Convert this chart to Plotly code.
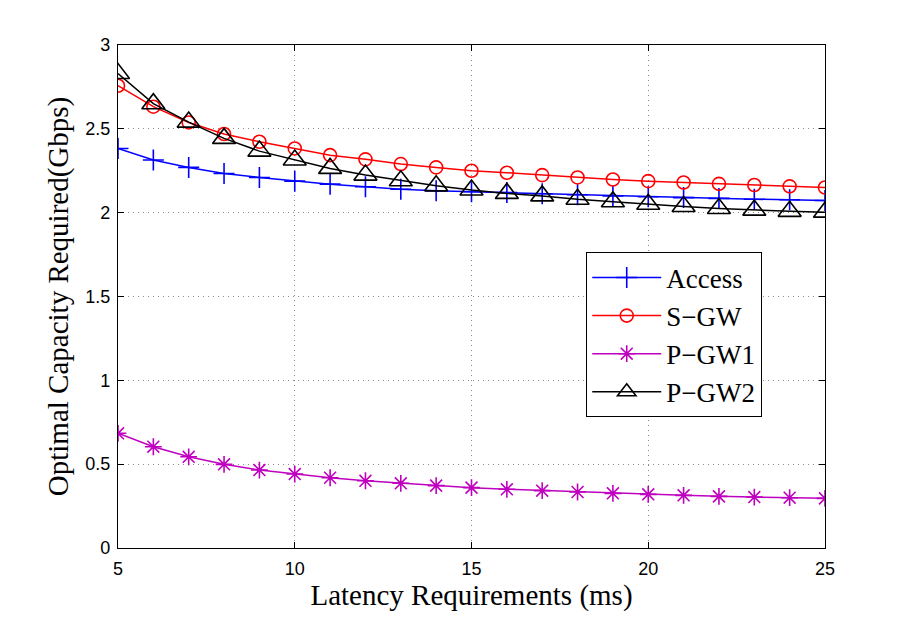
import plotly.graph_objects as go

latency = list(range(5, 26))
access = [2.383, 2.314, 2.27, 2.234, 2.21, 2.188, 2.17, 2.155, 2.14, 2.131, 2.125,
          2.12, 2.113, 2.107, 2.10, 2.095, 2.09, 2.085, 2.08, 2.077, 2.073]
sgw = [2.757, 2.632, 2.538, 2.469, 2.423, 2.383, 2.343, 2.318, 2.29, 2.27, 2.25,
       2.238, 2.224, 2.21, 2.198, 2.188, 2.18, 2.172, 2.165, 2.157, 2.15]
pgw1 = [0.684, 0.604, 0.544, 0.499, 0.465, 0.441, 0.419, 0.401, 0.386, 0.372, 0.36,
        0.35, 0.342, 0.334, 0.326, 0.32, 0.314, 0.308, 0.304, 0.30, 0.296]
pgw2 = [2.83, 2.65, 2.54, 2.443, 2.367, 2.314, 2.264, 2.224, 2.19, 2.16, 2.135,
        2.115, 2.10, 2.08, 2.065, 2.05, 2.037, 2.025, 2.015, 2.008, 2.003]

series = [
    ("Access", access, "blue", "cross-thin-open", 15),
    ("S\u2212GW", sgw, "red", "circle-open", 13),
    ("P\u2212GW1", pgw1, "#bf00bf", "asterisk-open", 14),
    ("P\u2212GW2", pgw2, "black", "triangle-up-open", 20),
]

fig = go.Figure()
for name, vals, color, sym, size in series:
    fig.add_trace(go.Scatter(
        x=latency, y=vals, name=name, mode="lines+markers",
        line=dict(color=color, width=1.5),
        marker=dict(symbol=sym, size=size, color=color, line=dict(color=color, width=1.6)),
    ))

axis_common = dict(
    showline=True, linecolor="black", linewidth=1.2, mirror="ticks",
    ticks="inside", ticklen=6, tickcolor="black",
    showgrid=True, gridcolor="#8a8a8a", griddash="1px,4px", gridwidth=1,
    zeroline=False,
    tickfont=dict(family="Liberation Sans, Arial", size=18, color="black"),
    title_font=dict(family="Liberation Serif, Times New Roman", size=29, color="black"),
)

fig.update_layout(
    width=909, height=617,
    margin=dict(l=118, r=84, t=45, b=69),
    paper_bgcolor="white", plot_bgcolor="white",
    showlegend=True,
    legend=dict(
        x=0.662, y=0.588, xanchor="left", yanchor="top",
        bordercolor="black", borderwidth=1.2, bgcolor="white",
        font=dict(family="Liberation Serif, Times New Roman", size=27, color="black"),
        itemwidth=69, tracegroupgap=0,
    ),
    xaxis=dict(range=[5, 25], tickvals=[5, 10, 15, 20, 25], ticklabelstandoff=4,
               title=dict(text="Latency Requirements (ms)", standoff=2), **axis_common),
    yaxis=dict(range=[0, 3], tickvals=[0, 0.5, 1, 1.5, 2, 2.5, 3],
               ticktext=["0", "0.5", "1", "1.5", "2", "2.5", "3"], ticklabelstandoff=3,
               title=dict(text="Optimal Capacity Required(Gbps)", standoff=8), **axis_common),
)

fig.write_html("out.html")
